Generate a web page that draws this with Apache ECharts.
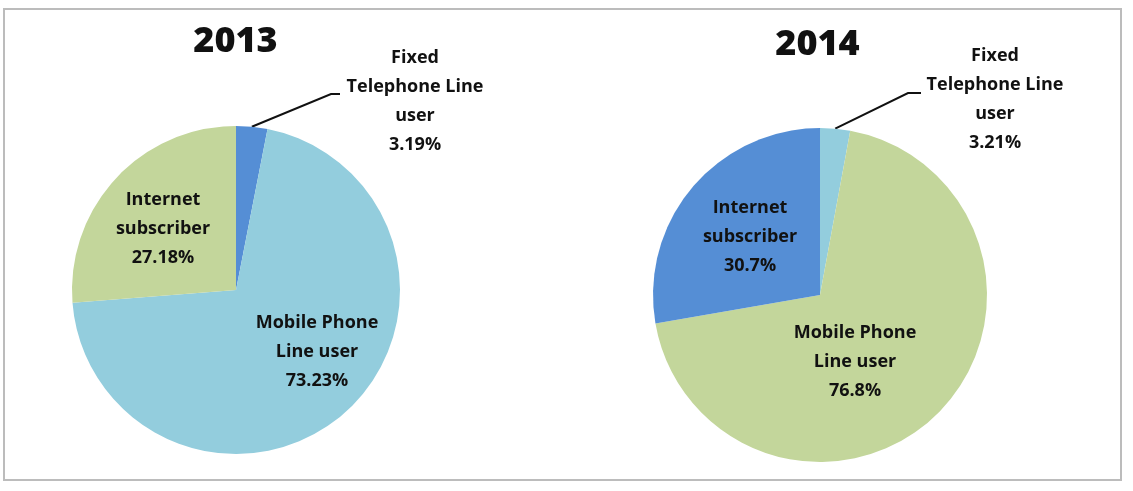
<!DOCTYPE html>
<html>
<head>
<meta charset="utf-8">
<script src="https://cdn.jsdelivr.net/npm/echarts@6/dist/echarts.min.js"></script>
<style>
html,body{margin:0;padding:0;background:#fff;}
#c{width:1133px;height:491px;}
</style>
</head>
<body>
<div id="c"></div>
<script>
// ---- data ----
const years = ['2013', '2014'];
const categories = ['Fixed Telephone Line user', 'Mobile Phone Line user', 'Internet subscriber'];
const labelNames = ['Fixed\nTelephone Line\nuser', 'Mobile Phone\nLine user', 'Internet\nsubscriber'];
const values2013 = [3.19, 73.23, 27.18];
const values2014 = [3.21, 76.8, 30.7];

// ---- styles / layout ----
const colors2013 = ['#558ed5', '#93cddd', '#c3d69b'];
const colors2014 = ['#93cddd', '#c3d69b', '#558ed5'];
const TITLE_FONT = 'Open Sans';
const LABEL_FONT = 'Open Sans';

const layout = [
  { center: [236, 290], radius: 164, title: [235.5, 42],
    labels: [[415, 101], [317, 352], [163, 229]],
    bend: [331, 94], end: [340, 94] },
  { center: [820, 295], radius: 167, title: [817.5, 45],
    labels: [[995, 99], [855, 362], [750, 237]],
    bend: [908, 93], end: [921, 93] }
];

function makeSeries(idx, values, colors) {
  const L = layout[idx];
  return {
    type: 'pie',
    name: years[idx],
    center: L.center,
    radius: L.radius,
    startAngle: 90,
    clockwise: true,
    animation: false,
    silent: true,
    itemStyle: { borderWidth: 0 },
    emphasis: { disabled: true },
    label: {
      show: true,
      position: 'inside',
      fontFamily: LABEL_FONT,
      fontWeight: 'bold',
      fontSize: 18,
      lineHeight: 29,
      color: '#111',
      align: 'center',
      formatter: p => labelNames[p.dataIndex] + '\n' + p.value + '%'
    },
    labelLine: { show: false },
    labelLayout: function (p) {
      const pos = L.labels[p.dataIndex];
      const res = { x: pos[0], y: pos[1], align: 'center', verticalAlign: 'middle' };
      if (p.dataIndex === 0 && p.labelLinePoints) {
        res.labelLinePoints = [p.labelLinePoints[0], L.bend, L.end];
      }
      return res;
    },
    data: values.map((v, i) => ({
      name: categories[i],
      value: v,
      itemStyle: { color: colors[i] },
      label: i === 0 ? { position: 'outside' } : undefined,
      labelLine: i === 0 ? { show: true, length: 10, length2: 10, lineStyle: { color: '#111', width: 2 } } : undefined
    }))
  };
}

const chart = echarts.init(document.getElementById('c'), null, { renderer: 'canvas' });
chart.setOption({
  backgroundColor: '#fff',
  animation: false,
  title: years.map((y, i) => ({
    text: y,
    left: layout[i].title[0],
    top: layout[i].title[1],
    padding: 0,
    textAlign: 'center',
    textVerticalAlign: 'middle',
    textStyle: { fontFamily: TITLE_FONT, fontWeight: 800, fontSize: 36, color: '#111' }
  })),
  graphic: [{
    type: 'rect',
    shape: { x: 4, y: 9, width: 1117, height: 471 },
    style: { fill: 'none', stroke: '#bcbcbc', lineWidth: 2 },
    silent: true
  }],
  series: [
    makeSeries(0, values2013, colors2013),
    makeSeries(1, values2014, colors2014)
  ]
});
</script>
</body>
</html>
